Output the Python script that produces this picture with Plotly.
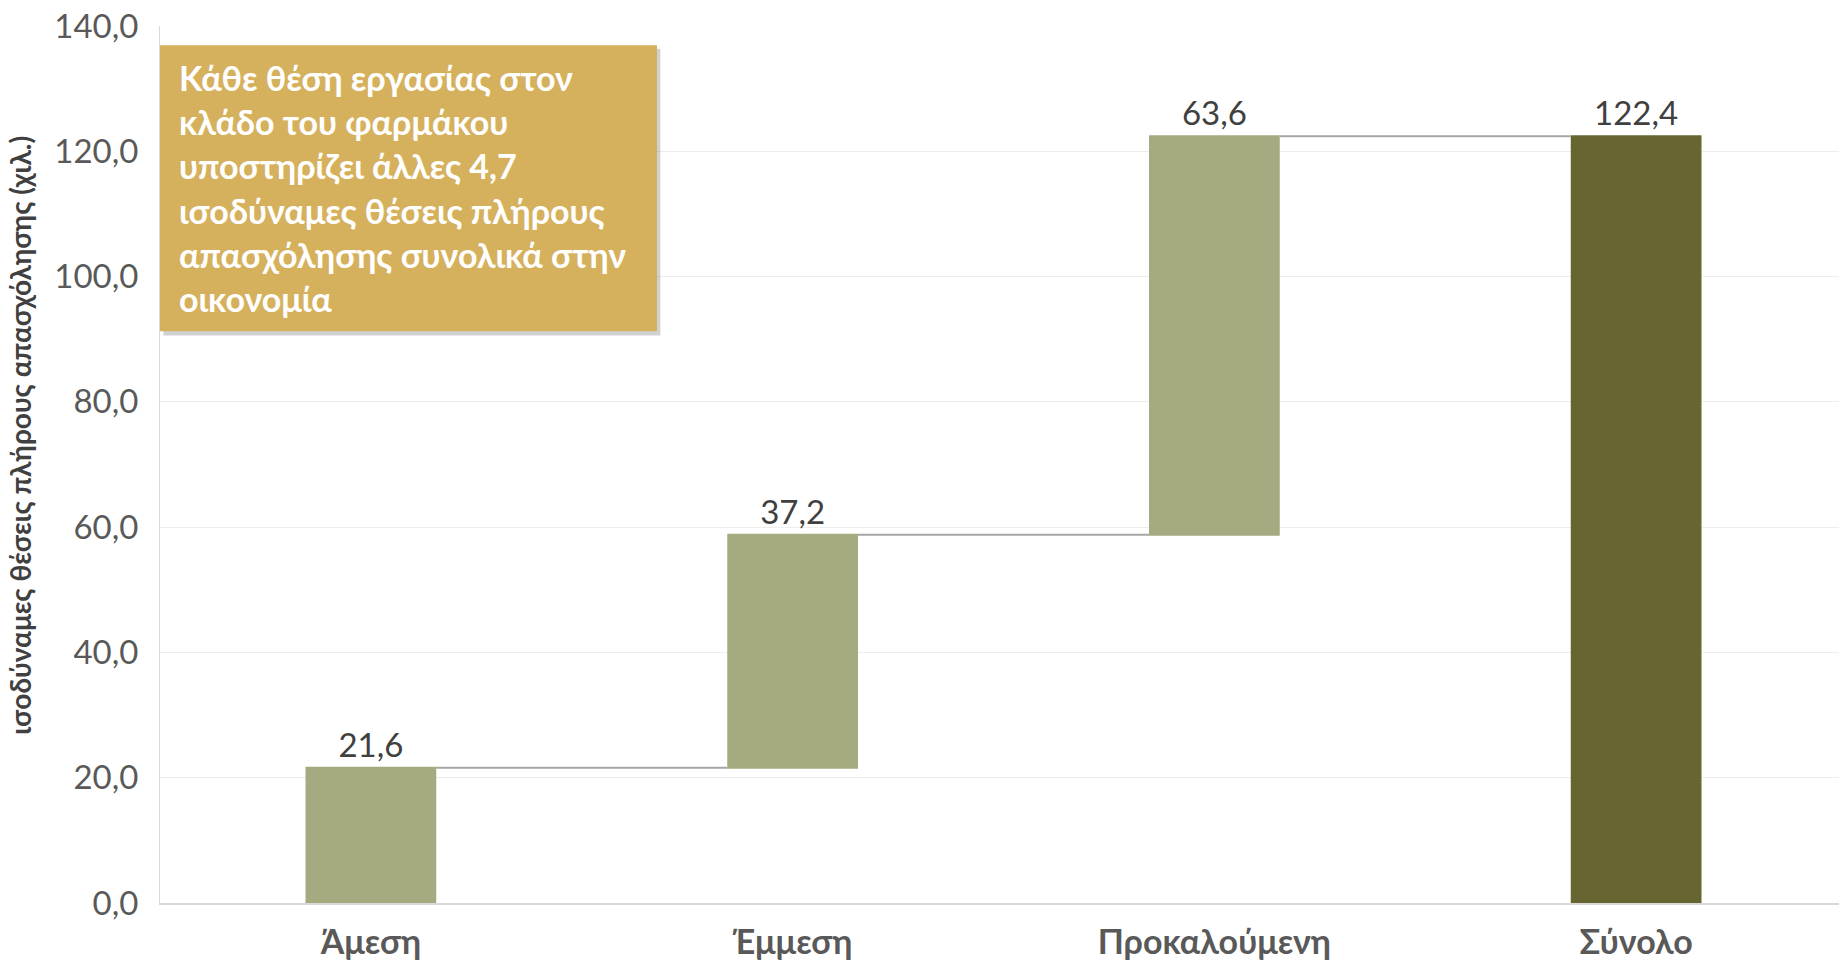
import plotly.graph_objects as go

# data
categories = ["Άμεση", "Έμμεση", "Προκαλούμενη", "Σύνολο"]
values = [21.6, 37.2, 63.6, 122.4]
measures = ["relative", "relative", "relative", "total"]
y_ticks = [0, 20, 40, 60, 80, 100, 120, 140]
note_lines = [
    "Κάθε θέση εργασίας στον",
    "κλάδο του φαρμάκου",
    "υποστηρίζει άλλες 4,7",
    "ισοδύναμες θέσεις πλήρους",
    "απασχόλησης συνολικά στην",
    "οικονομία",
]
y_title = "ισοδύναμες θέσεις πλήρους απασχόλησης (χιλ.)"

FONT = "Lato, 'Noto Sans', sans-serif"
LIGHT = "#A5AA80"
DARK = "#676633"
GOLD = "#D6B15D"

labels = [f"{v:.1f}".replace(".", ",") for v in values]

fig = go.Figure(go.Waterfall(
    x=categories,
    y=values,
    measure=measures,
    text=labels,
    textposition="outside",
    textfont=dict(family=FONT, size=33, color="#404040"),
    increasing=dict(marker=dict(color=LIGHT)),
    totals=dict(marker=dict(color=DARK)),
    connector=dict(mode="between", line=dict(color="#A6A6A6", width=2)),
    cliponaxis=False,
    showlegend=False,
))

# note box with soft shadow
fig.add_shape(type="rect", xref="paper", yref="paper",
              x0=0.002, x1=0.2966, y0=0.647, y1=0.974,
              fillcolor="rgba(0,0,0,0.18)", line_width=0, layer="above")
fig.add_shape(type="rect", xref="paper", yref="paper",
              x0=0.0, x1=0.2946, y0=0.652, y1=0.978,
              fillcolor=GOLD, line_width=0, layer="above")
fig.add_annotation(
    xref="paper", yref="paper", x=0.01, y=0.967,
    xanchor="left", yanchor="top", align="left",
    text="<br>".join(note_lines), showarrow=False,
    font=dict(family=FONT, size=34, color="white", weight="bold"),
)

# y-axis title as annotation (sits slightly above the axis centre)
fig.add_annotation(
    xref="paper", yref="paper", x=-0.083, y=0.534,
    xanchor="center", yanchor="middle", textangle=-90,
    text=y_title, showarrow=False,
    font=dict(family=FONT, size=28, color="#404040", weight="bold"),
)

# page body has an 8px margin, so the figure is sized 8px smaller
fig.update_layout(
    width=1839, height=953,
    margin=dict(l=152, r=0, t=18, b=58),
    plot_bgcolor="white", paper_bgcolor="white",
    separators=",.",
    waterfallgap=0.69,
    font=dict(family=FONT),
)
fig.update_yaxes(
    range=[0, 140], tickvals=y_ticks, tickformat=".1f",
    tickfont=dict(family=FONT, size=33, color="#595959"),
    ticklabelstandoff=14, ticklabeloverflow="allow",
    showgrid=True, gridcolor="#EDEDED", gridwidth=1,
    zeroline=False, automargin=False,
    showline=True, linecolor="#D9D9D9", linewidth=1,
)
fig.update_xaxes(
    range=[-0.5, 3.5], automargin=False,
    tickfont=dict(family=FONT, size=34, color="#595959", weight="bold"),
    ticklabelstandoff=8, ticklabeloverflow="allow",
    showline=True, linecolor="#D9D9D9", linewidth=2,
)

fig.write_html("out.html")
